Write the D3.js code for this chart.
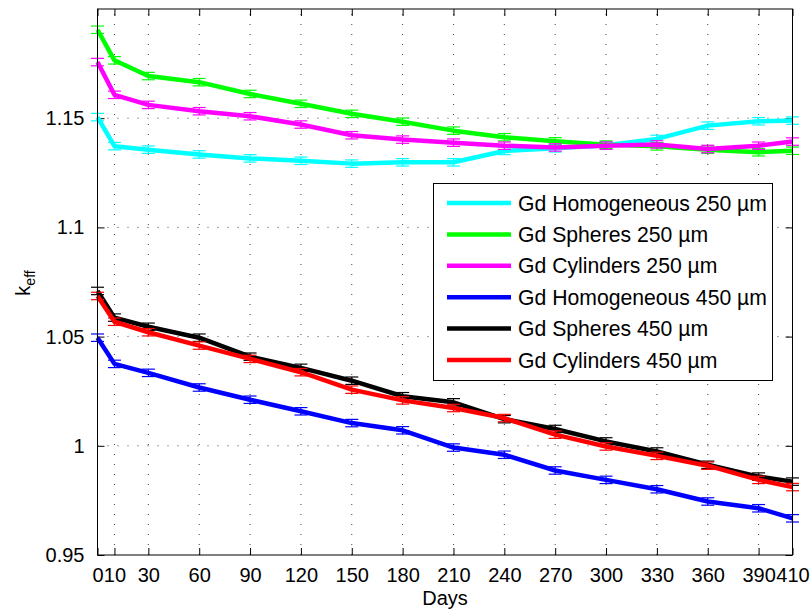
<!DOCTYPE html>
<html>
<head>
<meta charset="utf-8">
<script src="https://cdn.jsdelivr.net/npm/d3@7"></script>
<style>
  html, body { margin: 0; padding: 0; background: #fff; }
  svg { display: block; font-family: "Liberation Sans", Arial, Helvetica, sans-serif; }
</style>
</head>
<body>
<svg id="chart" width="811" height="612"></svg>
<script>
// Burnup days at which k_eff was evaluated
const days = [0, 10, 30, 60, 90, 120, 150, 180, 210, 240, 270, 300, 330, 360, 390, 410];

// k_eff per configuration
const homogeneous250 = [1.1505, 1.1372, 1.1356, 1.1334, 1.1316, 1.1305, 1.1292, 1.1298, 1.1298, 1.1350, 1.1362, 1.1376, 1.1405, 1.1466, 1.1486, 1.1489];
const spheres250     = [1.1905, 1.1765, 1.1693, 1.1665, 1.1611, 1.1566, 1.1520, 1.1484, 1.1443, 1.1413, 1.1394, 1.1379, 1.1371, 1.1356, 1.1344, 1.1351];
const cylinders250   = [1.1757, 1.1607, 1.1561, 1.1532, 1.1509, 1.1471, 1.1422, 1.1402, 1.1388, 1.1374, 1.1366, 1.1374, 1.1380, 1.1359, 1.1374, 1.1393];
const homogeneous450 = [1.0495, 1.0375, 1.0334, 1.0267, 1.0211, 1.0158, 1.0104, 1.0071, 0.9992, 0.9959, 0.9887, 0.9844, 0.9801, 0.9745, 0.9714, 0.9668];
const spheres450     = [1.0709, 1.0587, 1.0545, 1.0495, 1.0408, 1.0357, 1.0298, 1.0227, 1.0199, 1.0122, 1.0077, 1.0020, 0.9974, 0.9913, 0.9859, 0.9836];
const cylinders450   = [1.0686, 1.0568, 1.0520, 1.0459, 1.0398, 1.0337, 1.0257, 1.0208, 1.0173, 1.0127, 1.0051, 0.9997, 0.9954, 0.9909, 0.9844, 0.9811];

// statistical uncertainty (1 sigma) on each k_eff
const sigma = 0.0017;

const seriesNames  = ["Gd Homogeneous 250 \u00b5m", "Gd Spheres 250 \u00b5m", "Gd Cylinders 250 \u00b5m",
                      "Gd Homogeneous 450 \u00b5m", "Gd Spheres 450 \u00b5m", "Gd Cylinders 450 \u00b5m"];
const seriesValues = [homogeneous250, spheres250, cylinders250, homogeneous450, spheres450, cylinders450];
const seriesColors = ["#00ffff", "#00ff00", "#ff00ff", "#0000ff", "#000000", "#ff0000"];

const xTicks = days;
const yTicks = [0.95, 1, 1.05, 1.1, 1.15];
const yTickLabels = ["0.95", "1", "1.05", "1.1", "1.15"];

const svg = d3.select("#chart");
const box = { left: 97.5, right: 792.5, top: 9, bottom: 555 };

const x = d3.scaleLinear().domain([0, 410]).range([box.left, box.right]);
const y = d3.scaleLinear().domain([0.95, 1.2]).range([box.bottom, box.top]);

// dotted grid
const grid = svg.append("g").attr("stroke", "#444").attr("stroke-width", 1).attr("stroke-dasharray", "1,9");
grid.selectAll("line.vx").data(xTicks.filter(d => d > 0 && d < 410)).join("line")
  .attr("x1", d => x(d)).attr("x2", d => x(d))
  .attr("y1", box.bottom).attr("y2", box.top);
grid.selectAll("line.hy").data(yTicks.filter(d => d > 0.95)).join("line")
  .attr("x1", box.left).attr("x2", box.right)
  .attr("y1", d => y(d)).attr("y2", d => y(d));

// axes with inward ticks on all four sides
const tickLen = 7;
const fmtY = d => yTickLabels[yTicks.indexOf(d)];

const gx = svg.append("g").attr("transform", `translate(0,${box.bottom})`)
  .call(d3.axisBottom(x).tickValues(xTicks).tickSize(-tickLen).tickPadding(tickLen + 6).tickFormat(d3.format("d")));
const gxTop = svg.append("g").attr("transform", `translate(0,${box.top})`)
  .call(d3.axisTop(x).tickValues(xTicks).tickSize(-tickLen).tickFormat(""));
const gy = svg.append("g").attr("transform", `translate(${box.left},0)`)
  .call(d3.axisLeft(y).tickValues(yTicks).tickSize(-tickLen).tickPadding(tickLen + 6).tickFormat(fmtY));
const gyRight = svg.append("g").attr("transform", `translate(${box.right},0)`)
  .call(d3.axisRight(y).tickValues(yTicks).tickSize(-tickLen).tickFormat(""));

[gx, gxTop, gy, gyRight].forEach(g => {
  g.select(".domain").remove();
  g.selectAll(".tick line").attr("stroke", "#000").attr("stroke-width", 1);
  g.selectAll("text").attr("fill", "#000").attr("font-size", 20)
    .attr("font-family", "'Liberation Sans', Arial, Helvetica, sans-serif");
});

// data series: error bars first, then the curve
const lineGen = d3.line().x((d, i) => x(days[i])).y(d => y(d));
const capHalf = 6.5;
seriesValues.forEach((vals, s) => {
  const col = seriesColors[s];
  const g = svg.append("g");
  const eb = g.append("g").attr("stroke", col).attr("stroke-width", 1.2).attr("fill", "none");
  vals.forEach((v, i) => {
    const cx = x(days[i]);
    const yt = y(v + sigma), yb = y(v - sigma);
    eb.append("line").attr("x1", cx).attr("x2", cx).attr("y1", yt).attr("y2", yb);
    eb.append("line").attr("x1", cx - capHalf).attr("x2", cx + capHalf).attr("y1", yt).attr("y2", yt);
    eb.append("line").attr("x1", cx - capHalf).attr("x2", cx + capHalf).attr("y1", yb).attr("y2", yb);
  });
  g.append("path").datum(vals)
    .attr("d", lineGen)
    .attr("fill", "none").attr("stroke", col).attr("stroke-width", 4.5)
    .attr("stroke-linejoin", "round");
});

// plot frame
svg.append("rect")
  .attr("x", box.left).attr("y", box.top)
  .attr("width", box.right - box.left).attr("height", box.bottom - box.top)
  .attr("fill", "none").attr("stroke", "#000").attr("stroke-width", 1);

// axis titles
svg.append("text").attr("x", (box.left + box.right) / 2).attr("y", 605)
  .attr("text-anchor", "middle").attr("font-size", 20).text("Days");

const yl = svg.append("text").attr("transform", "translate(30,283) rotate(-90)")
  .attr("text-anchor", "middle").attr("font-size", 20);
yl.append("tspan").text("k");
yl.append("tspan").attr("font-size", 14).attr("dy", 5).text("eff");

// legend
const legend = { x: 433.5, y: 183.5, w: 339, h: 197, row0: 203, rowStep: 31.4 };
const lg = svg.append("g");
lg.append("rect").attr("x", legend.x).attr("y", legend.y).attr("width", legend.w).attr("height", legend.h)
  .attr("fill", "#fff").attr("stroke", "#000").attr("stroke-width", 1);
seriesNames.forEach((name, i) => {
  const cy = legend.row0 + i * legend.rowStep;
  lg.append("line").attr("x1", 447).attr("x2", 511).attr("y1", cy).attr("y2", cy)
    .attr("stroke", seriesColors[i]).attr("stroke-width", 4.5);
  lg.append("text").attr("x", 518).attr("y", cy + 7.5).attr("font-size", 21.2).text(name);
});
</script>
</body>
</html>
